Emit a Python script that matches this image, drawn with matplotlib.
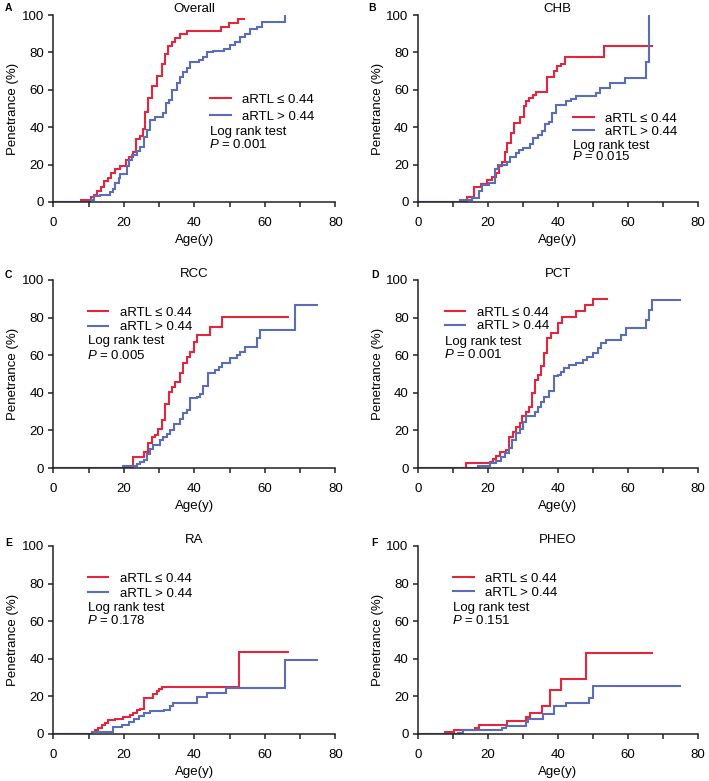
import matplotlib
matplotlib.use("Agg")
import matplotlib.pyplot as plt
from matplotlib.lines import Line2D

plt.rcParams['font.family'] = ['Liberation Sans', 'DejaVu Sans']
plt.rcParams['mathtext.fontset'] = 'custom'
plt.rcParams['mathtext.it'] = 'Liberation Sans:italic'
plt.rcParams['mathtext.rm'] = 'Liberation Sans'

RED = '#E3263D'
BLUE = '#5B6DB6'
LABELS = ['aRTL ≤ 0.44', 'aRTL > 0.44']

# ---------------- data ----------------
titles = ['Overall', 'CHB', 'RCC', 'PCT', 'RA', 'PHEO']
letters = ['A', 'B', 'C', 'D', 'E', 'F']
pvalues = ['0.001', '0.015', '0.005', '0.001', '0.178', '0.151']

A_red_t = [7.8, 10.6, 11.5, 12.5, 13.5, 14.5, 15.5, 16.5, 17.5, 19.0, 20.5, 21.5, 22.5, 23.5, 24.5,
           25.5, 26.0, 27.0, 28.0, 29.5, 30.7, 31.7, 32.6, 33.6, 34.5, 35.9, 37.8, 47.5, 49.8, 52.5]
A_red_v = [1, 2.5, 4, 6, 8, 11, 13, 15.5, 17.5, 19.5, 22.5, 24, 27, 33.5, 35.5,
           39, 48, 55.5, 62, 67.5, 74, 79, 83.5, 85.5, 87.5, 90, 91.6, 93.4, 95.5, 97.7]
A_red_end = 54
A_blue_t = [10.4, 11.6, 13.3, 16.1, 17.0, 17.5, 18.5, 18.9, 20.8, 21.6, 22.3, 23.7, 24.6, 25.6, 26.5,
            27.5, 28.9, 31.2, 32.0, 32.9, 33.6, 35.0, 36.0, 36.9, 37.9, 38.8, 41.2, 42.6, 43.7, 45.4,
            48.3, 50.2, 51.6, 53.0, 54.4, 55.9, 57.8, 59.2, 65.8]
A_blue_v = [1, 3, 4, 5.5, 7, 10, 12.7, 15, 19.4, 22.5, 25, 27.5, 29.6, 35, 38.5,
            44, 45.6, 47.4, 52.8, 54.5, 60, 63.5, 66.7, 69.7, 71.5, 75, 76, 77.7, 80, 81,
            82, 84, 85.7, 88, 90, 92.3, 93.8, 96, 100]
A_blue_end = 65.8

B_red_t = [14, 16, 18, 19.7, 21.2, 22.4, 23.2, 24, 24.8, 25.6, 26.6, 27.5, 29.3, 30.3, 31,
           31.8, 32.8, 33.8, 37, 38.8, 39.8, 40.8, 42, 53.2]
B_red_v = [2.5, 8, 9.5, 11.8, 13.5, 15.5, 19, 21.5, 27, 31.5, 37, 42.5, 45.5, 51.5, 54,
           55.5, 57, 59, 67, 70, 72.5, 74, 77.7, 83.3]
B_red_end = 67
B_blue_t = [12, 15.5, 17.5, 18.5, 20.5, 22, 23, 25.5, 26.5, 28, 29, 30, 32, 33, 34.5,
            35.5, 36.5, 37.5, 38.5, 39.6, 42.5, 43.9, 45.3, 51, 52, 54.8, 59.1, 65.3, 66.2]
B_blue_v = [1, 2, 6, 9, 10, 17.5, 20, 21.5, 24, 26, 28, 29, 31, 34, 36,
            38, 41.5, 43, 47.5, 52, 54, 55, 56.5, 58.5, 61, 63.5, 66.5, 75, 100]
B_blue_end = 66.2

C_red_t = [22.7, 25.7, 27, 27.9, 28.9, 29.8, 30.8, 31.7, 32.7, 33.6, 34.6, 36, 36.9, 37.9, 38.8,
           39.8, 40.7, 44.5, 47.8]
C_red_v = [5.9, 8.5, 13.3, 16.5, 17.5, 21, 25.4, 34.3, 40.5, 43, 45.8, 50.3, 56, 59, 61.8,
           67, 70.7, 75, 80.5]
C_red_end = 66.7
C_blue_t = [19.9, 23.7, 24.6, 25.6, 26.5, 27.5, 28.4, 30.3, 31.2, 32.2, 33.1, 34.1, 36, 36.9, 37.9,
            38.8, 40.7, 41.7, 42.6, 44, 45.9, 46.9, 47.8, 50.2, 52.1, 53, 54.4, 57.8, 58.7, 68.6]
C_blue_v = [1, 2, 3, 4.5, 7.6, 10, 12, 14.7, 16.5, 18.3, 20, 23.6, 26.3, 29, 30.7,
            37, 37.8, 39.6, 43.5, 50.3, 52, 53.8, 55.6, 58.3, 60, 61.8, 64.5, 69, 73.4, 86.7]
C_blue_end = 74.8

D_red_t = [13.9, 20.6, 21.5, 22.5, 23.4, 25.3, 26.1, 27.2, 28.2, 29.1, 29.9, 30.8, 31.9, 32.7, 33.4,
           34.3, 35.3, 36, 37, 38.1, 40, 41.1, 45.2, 47.9, 50.2]
D_red_v = [2.5, 3.4, 4.6, 6.4, 8.3, 9.6, 16.7, 19.4, 22, 24.2, 27.4, 30, 32.7, 39.8, 47,
           49.6, 54, 61, 69, 71.8, 77, 80.3, 83.7, 86.9, 90]
D_red_end = 54
D_blue_t = [17.3, 20.6, 22.5, 23.9, 25, 26.1, 27, 28, 29.1, 30, 31, 33.4, 34.3, 35.3, 36.2,
            37.6, 39, 40, 40.9, 41.9, 43.3, 45.2, 47.1, 48.5, 50, 51.4, 52.3, 53.7, 58, 59.4,
            65.1, 66.1, 67]
D_blue_v = [1, 2.5, 3.9, 6, 8.2, 10.5, 15, 18.5, 21, 24.7, 27.4, 30, 32.7, 35.3, 38,
            40.7, 48.7, 49.6, 51.3, 53, 54.9, 55.8, 57.5, 59.3, 61, 63.8, 66.4, 68.2, 70.9, 74.4,
            78.9, 84.2, 89.5]
D_blue_end = 74.9

E_red_t = [10.9, 11.8, 12.8, 13.7, 14.7, 15.6, 17.5, 19.9, 21.8, 22.7, 23.7, 24.6, 25.8, 28.4, 29.3,
           30.1, 30.8, 52.8]
E_red_v = [1, 2, 3.4, 4.6, 5.9, 7.3, 7.8, 9, 10.3, 11.4, 12.6, 13.5, 19.4, 21.1, 22.9,
           24.2, 25, 43.5]
E_red_end = 66.7
E_blue_t = [10.9, 17.0, 19.5, 21.5, 23.0, 24.3, 25.8, 27.3, 31.5, 33.0, 34.0, 40.7, 43.6, 49.0, 65.8]
E_blue_v = [1, 3.5, 5, 6.5, 8, 9.5, 11, 12, 13, 15, 16.5, 19.7, 21.8, 24.5, 39.6]
E_blue_end = 74.8

F_red_t = [7.8, 10.5, 16.5, 17.5, 25.5, 31, 32, 35.5, 37.8, 41, 48]
F_red_v = [1, 2.2, 3.3, 5, 6.7, 9, 11, 15, 23.3, 29.2, 43.3]
F_red_end = 67
F_blue_t = [11.6, 13, 24, 25.3, 31, 31.5, 35.7, 39, 42.4, 48.8, 50.1]
F_blue_v = [0.7, 2, 3.2, 4.3, 6.6, 8, 10.5, 14.9, 16.3, 19.3, 25.7]
F_blue_end = 74.8

red_series = [(A_red_t, A_red_v, A_red_end), (B_red_t, B_red_v, B_red_end), (C_red_t, C_red_v, C_red_end),
              (D_red_t, D_red_v, D_red_end), (E_red_t, E_red_v, E_red_end), (F_red_t, F_red_v, F_red_end)]
blue_series = [(A_blue_t, A_blue_v, A_blue_end), (B_blue_t, B_blue_v, B_blue_end), (C_blue_t, C_blue_v, C_blue_end),
               (D_blue_t, D_blue_v, D_blue_end), (E_blue_t, E_blue_v, E_blue_end), (F_blue_t, F_blue_v, F_blue_end)]

# ---------------- layout (pixels) ----------------
W, H = 709, 781
fig = plt.figure(figsize=(W / 100, H / 100), dpi=100)

col_left = [53.3, 417.7]
col_width = [282, 280]
row_top = [15, 280, 546]
row_bot = [202, 468, 734]

# legend (axes fraction): line start x, row1 y, row2 y, log-rank y, P y
legend_pos = [
    (0.556, 0.550, 0.455, 0.376, 0.305),
    (0.555, 0.448, 0.373, 0.301, 0.242),
    (0.123, 0.828, 0.746, 0.675, 0.600),
    (0.0975, 0.828, 0.752, 0.672, 0.605),
    (0.123, 0.828, 0.744, 0.668, 0.606),
    (0.127, 0.828, 0.748, 0.670, 0.606),
]
letter_pos = [(5, 8), (368, 8), (5, 275), (371, 275), (5, 543), (371, 543)]

FS = 9.5
for i in range(6):
    r, c = divmod(i, 2)
    l = col_left[c] / W
    b = 1 - row_bot[r] / H
    w = col_width[c] / W
    h = (row_bot[r] - row_top[r]) / H
    ax = fig.add_axes([l, b, w, h])

    for (t, v, end), col in ((red_series[i], RED), (blue_series[i], BLUE)):
        xs = [0] + list(t) + [end]
        ys = [0] + list(v) + [v[-1]]
        ax.step(xs, ys, where='post', color=col, lw=1.5, solid_joinstyle='miter')

    ax.set_xlim(0, 80)
    ax.set_ylim(0, 100)
    ax.set_xticks(range(0, 81, 20))
    ax.set_xticks(range(10, 80, 20), minor=True)
    ax.set_yticks(range(0, 101, 20))
    for s in ['top', 'right']:
        ax.spines[s].set_visible(False)
    for s in ['left', 'bottom']:
        ax.spines[s].set_linewidth(1.1)
        ax.spines[s].set_color('#222222')
    ax.tick_params(axis='both', which='both', direction='out', length=3.5, width=1.1,
                   color='#222222', labelsize=FS, pad=3)
    ax.tick_params(axis='x', which='both', pad=7)
    ax.set_xlabel('Age(y)', fontsize=FS, labelpad=4)
    ax.set_ylabel('Penetrance (%)', fontsize=FS, labelpad=2)
    ax.set_title(titles[i], fontsize=FS, pad=1)

    lx, r1, r2, lry, py = legend_pos[i]
    row_gap_px = (r1 - r2) * (row_bot[r] - row_top[r])
    spacing = max(0.0, (row_gap_px - 13.2 * 1.0) / 13.2)
    handles = [Line2D([], [], color=RED, lw=1.5), Line2D([], [], color=BLUE, lw=1.5)]
    ax.legend(handles, LABELS, loc='center left', bbox_to_anchor=(lx, (r1 + r2) / 2),
              frameon=False, fontsize=FS, handlelength=1.55, handletextpad=0.85,
              labelspacing=spacing, borderpad=0, borderaxespad=0)
    ax.text(lx, lry, 'Log rank test', transform=ax.transAxes, fontsize=FS, va='center', ha='left')
    ax.text(lx - 0.005, py, '$P$ = ' + pvalues[i], transform=ax.transAxes, fontsize=FS,
            va='center', ha='left')

    fx, fy = letter_pos[i]
    fig.text(fx / W, 1 - fy / H, letters[i], fontsize=7.5, fontweight='bold', va='center', ha='left')

fig.savefig('out.png', dpi=100)
